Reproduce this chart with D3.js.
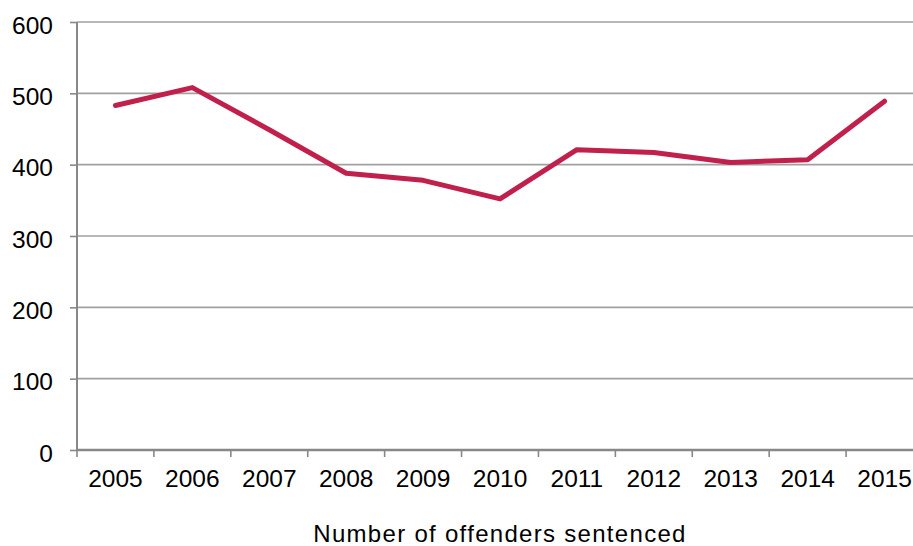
<!DOCTYPE html>
<html>
<head>
<meta charset="utf-8">
<script src="https://cdn.jsdelivr.net/npm/d3@7"></script>
<style>
html,body{margin:0;padding:0;background:#fff;}
svg{display:block;}
text{font-family:"Liberation Sans",Arial,sans-serif;fill:#000;}
</style>
</head>
<body>
<svg id="chart" width="913" height="546"></svg>
<script>
const years = ["2005","2006","2007","2008","2009","2010","2011","2012","2013","2014","2015"];
const offenders = [483, 508, 449, 388, 378, 352, 421, 417, 403, 407, 489];
const yTicks = [0, 100, 200, 300, 400, 500, 600];
const xTitle = "Number of offenders sentenced";

const svg = d3.select("#chart");
const mLeft = 77, mRight = 923, mTop = 22, mBottom = 450;

const x = d3.scaleBand().domain(years).range([mLeft, mRight]).padding(0);
const y = d3.scaleLinear().domain([0, 600]).range([mBottom, mTop]);

// gridlines
svg.append("g").selectAll("line").data(yTicks.filter(d => d > 0)).join("line")
  .attr("x1", mLeft).attr("x2", 913)
  .attr("y1", d => y(d)).attr("y2", d => y(d))
  .attr("stroke", "#a0a0a0").attr("stroke-width", 1.6);

// y axis
const yAxis = svg.append("g").attr("transform", `translate(${mLeft},0)`)
  .call(d3.axisLeft(y).tickValues(yTicks).tickSize(7).tickPadding(17).tickFormat(d3.format("d")));
yAxis.select(".domain").attr("stroke", "#888").attr("stroke-width", 2).attr("d", `M0,${mTop}V${mBottom}`);
yAxis.selectAll(".tick line").attr("stroke", "#888").attr("stroke-width", 1.6);
yAxis.selectAll(".tick text").style("font-size", "24.5px").attr("dy", "0.45em").attr("fill", "#000");

// x axis
const xAxis = svg.append("g").attr("transform", `translate(0,${mBottom})`)
  .call(d3.axisBottom(x).tickSize(0).tickPadding(14));
xAxis.select(".domain").attr("stroke", "#888").attr("stroke-width", 2.4).attr("d", `M${mLeft},0H913`);
xAxis.selectAll(".tick text").style("font-size", "24.5px").attr("dy", "0.95em").attr("fill", "#000");
// tick marks at band boundaries
const bounds = years.map(d => x(d));
svg.append("g").selectAll("line").data(bounds).join("line")
  .attr("x1", d => d).attr("x2", d => d)
  .attr("y1", mBottom).attr("y2", mBottom + 7)
  .attr("stroke", "#888").attr("stroke-width", 1.6);

// line
const line = d3.line()
  .x((d, i) => x(years[i]) + x.bandwidth() / 2)
  .y(d => y(d));
svg.append("path").datum(offenders)
  .attr("d", line)
  .attr("fill", "none")
  .attr("stroke", "#c0204b")
  .attr("stroke-width", 5)
  .attr("stroke-linejoin", "round")
  .attr("stroke-linecap", "round");

// title
svg.append("text")
  .attr("x", (mLeft + mRight) / 2).attr("y", 542)
  .attr("text-anchor", "middle")
  .style("font-size", "24px")
  .style("letter-spacing", "1.3px")
  .text(xTitle);
</script>
</body>
</html>
